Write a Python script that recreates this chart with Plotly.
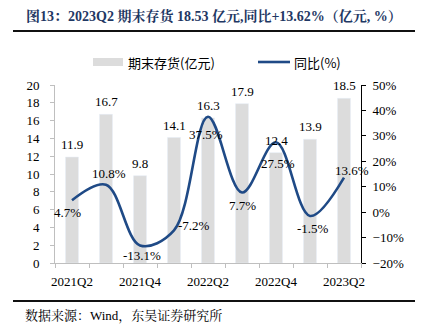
import plotly.graph_objects as go

quarters = ["2021Q2", "2021Q3", "2021Q4", "2022Q1", "2022Q2", "2022Q3", "2022Q4", "2023Q1", "2023Q2"]
inventory = [11.9, 16.7, 9.8, 14.1, 16.3, 17.9, 12.4, 13.9, 18.5]
yoy = [4.7, 10.8, -13.1, -7.2, 37.5, 7.7, 27.5, -1.5, 13.6]
tick_labels = ["2021Q2", "2021Q4", "2022Q2", "2022Q4", "2023Q2"]

SERIF = "Liberation Serif, Times New Roman, Noto Serif CJK SC, Noto Sans CJK SC, serif"
CJK = "Noto Sans CJK SC, sans-serif"
BAR_C = "#DCDCDC"
LINE_C = "#1F4A86"

xs = list(range(len(quarters)))

fig = go.Figure()
fig.add_trace(go.Bar(x=xs, y=inventory, marker_color=BAR_C, width=0.38,
                     name="期末存货(亿元)", yaxis="y", showlegend=False))
fig.add_trace(go.Scatter(x=xs, y=yoy, mode="lines", line=dict(color=LINE_C, width=2.6, shape="spline", smoothing=1.0),
                         name="同比(%)", yaxis="y2", showlegend=False))

ann = []
for i, v in enumerate(inventory):
    ann.append(dict(x=i, y=v, xref="x", yref="y", text=f"{v:.1f}", showarrow=False,
                    yanchor="bottom", yshift=3, font=dict(family=SERIF, size=13, color="#000")))

# yoy label placement: (xanchor, yanchor, xshift, yshift)
pos = [("center", "top", -5, -3), ("center", "bottom", 3, 2), ("center", "top", 2, -1),
       ("left", "middle", 2, 5), ("center", "top", -2, -8), ("center", "top", 0, -3),
       ("center", "top", 2, -12), ("center", "top", 3, -3), ("center", "bottom", 8, -2)]
for i, v in enumerate(yoy):
    xa, ya, xsft, ysft = pos[i]
    ann.append(dict(x=i, y=v, xref="x", yref="y2", text=f"{v:.1f}%", showarrow=False,
                    xanchor=xa, yanchor=ya, xshift=xsft, yshift=ysft,
                    font=dict(family=SERIF, size=13, color="#000")))

def px(x):
    return (x - 55) / 306

def py(y):
    return (263 - y) / 178

# title
ann.append(dict(x=px(214), y=py(16), xref="paper", yref="paper", xanchor="center", yanchor="middle",
                text="<b>图13：2023Q2 期末存货 18.53 亿元,同比+13.62%（亿元, %）</b>", showarrow=False,
                font=dict(family=SERIF, size=14, color="#1F3864")))
# footer
ann.append(dict(x=px(23), y=py(316), xref="paper", yref="paper", xanchor="left", yanchor="middle",
                text="数据来源：Wind，东吴证券研究所", showarrow=False,
                font=dict(family=SERIF, size=13, color="#000")))
# legend texts
ann.append(dict(x=px(126), y=py(62), xref="paper", yref="paper", xanchor="left", yanchor="middle",
                text="期末存货(亿元)", showarrow=False, font=dict(family=CJK, size=13, color="#000")))
ann.append(dict(x=px(292), y=py(62), xref="paper", yref="paper", xanchor="left", yanchor="middle",
                text="同比(%)", showarrow=False, font=dict(family=CJK, size=13, color="#000")))

shapes = [
    dict(type="line", xref="paper", yref="paper", x0=px(13), x1=px(415), y0=py(31), y1=py(31),
         line=dict(color="#111", width=2)),
    dict(type="line", xref="paper", yref="paper", x0=px(13), x1=px(415), y0=py(301), y1=py(301),
         line=dict(color="#111", width=2)),
    dict(type="rect", xref="paper", yref="paper", x0=px(93), x1=px(123), y0=py(66), y1=py(58),
         fillcolor=BAR_C, line=dict(width=0)),
    dict(type="line", xref="paper", yref="paper", x0=px(258), x1=px(290), y0=py(62), y1=py(62),
         line=dict(color=LINE_C, width=2.6)),
]

fig.update_layout(
    width=425, height=331,
    margin=dict(l=55, r=64, t=85, b=68),
    paper_bgcolor="white", plot_bgcolor="white",
    annotations=ann, shapes=shapes,
    xaxis=dict(range=[-0.5, 8.5], tickmode="array", tickvals=xs[::2], ticktext=tick_labels,
               ticks="", showline=True, linecolor="#BFBFBF", linewidth=1, showgrid=False, zeroline=False,
               ticklabelstandoff=6,
               tickfont=dict(family=SERIF, size=13, color="#000"),
               minor=dict(ticks="outside", tick0=-0.5, dtick=1, ticklen=4, tickcolor="#BFBFBF", showgrid=False)),
    yaxis=dict(range=[0, 20], dtick=2, ticks="outside", ticklen=4, tickcolor="#BFBFBF",
               showline=True, linecolor="#BFBFBF", linewidth=1, showgrid=False, zeroline=False,
               ticklabelstandoff=8,
               tickfont=dict(family=SERIF, size=13, color="#000")),
    yaxis2=dict(range=[-20, 50], dtick=10, overlaying="y", side="right", ticks="outside", ticklen=4,
                tickcolor="#000", showline=True, linecolor="#000", linewidth=1, showgrid=False, zeroline=False,
                ticksuffix="%", ticklabelstandoff=4, tickfont=dict(family=SERIF, size=13, color="#000")),
)

fig.write_html("out.html")
